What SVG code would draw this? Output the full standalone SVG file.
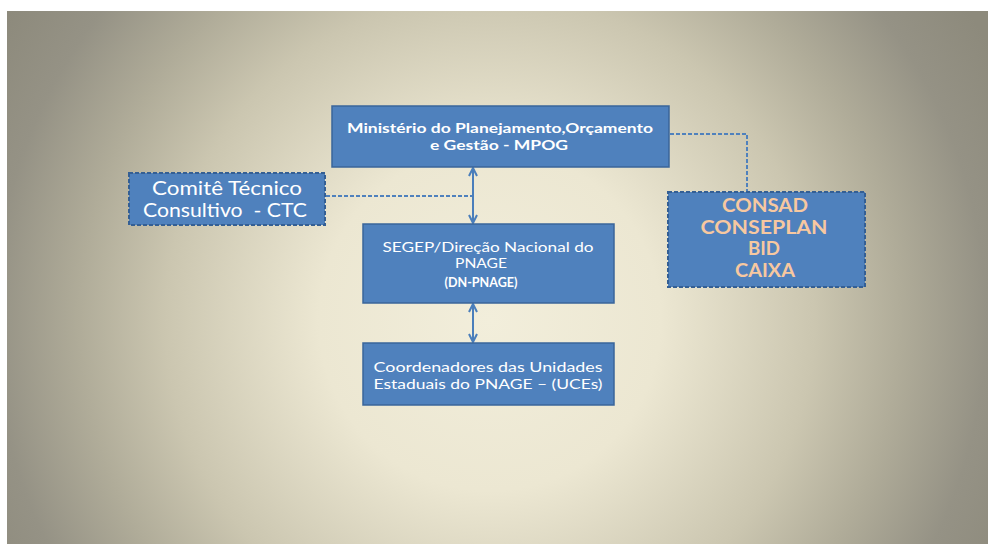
<svg xmlns="http://www.w3.org/2000/svg" width="988" height="544" viewBox="0 0 988 544">
<defs>
<radialGradient id="bg" gradientUnits="userSpaceOnUse" cx="490" cy="320" r="570">
<stop offset="0" stop-color="#f2eedb"/>
<stop offset="0.3" stop-color="#ece7d2"/>
<stop offset="0.57" stop-color="#cbc6b0"/>
<stop offset="0.72" stop-color="#b0ac99"/>
<stop offset="0.87" stop-color="#959285"/>
<stop offset="1" stop-color="#8d8a7c"/>
</radialGradient>
<marker id="ah" viewBox="0 0 10 10" refX="9" refY="5" markerWidth="5" markerHeight="5" orient="auto-start-reverse" markerUnits="strokeWidth">
<path d="M1,1 L9,5 L1,9" fill="none" stroke="#4a7ebb" stroke-width="2"/>
</marker>
<style>
.box{fill:#4f81bd;stroke:#3a659a;stroke-width:1.5}
.dbox{fill:#4f81bd;stroke:#345f94;stroke-width:2;stroke-dasharray:4 2}
.t{font-family:Lato,"Open Sans","Liberation Sans",sans-serif;fill:#ffffff;text-anchor:middle}
.o{font-family:Lato,"Open Sans","Liberation Sans",sans-serif;fill:#f7c8a0;text-anchor:middle;font-weight:bold;font-size:18px}
.arr{stroke:#4a7ebb;stroke-width:2;fill:none;marker-start:url(#ah);marker-end:url(#ah)}
.dash{stroke:#4f81bd;stroke-width:2;fill:none;stroke-dasharray:4 2}
</style>
</defs>
<rect x="0" y="0" width="988" height="544" fill="#ffffff"/>
<rect x="7" y="11" width="981" height="533" fill="url(#bg)"/>
<g id="connectors">
<line class="arr" x1="473" y1="168" x2="473" y2="223"/>
<line class="arr" x1="473" y1="304" x2="473" y2="342"/>
<polyline class="dash" points="326,196 472,196"/>
<polyline class="dash" points="670,134 747,134 747,191"/>
</g>
<g id="mpog">
<rect class="box" x="332" y="106" width="337" height="61"/>
<text class="t" x="500" y="133" font-size="14" font-weight="bold" textLength="306" lengthAdjust="spacingAndGlyphs">Ministério do Planejamento,Orçamento</text>
<text class="t" x="499" y="150" font-size="14" font-weight="bold" textLength="138" lengthAdjust="spacingAndGlyphs">e Gestão - MPOG</text>
</g>
<g id="ctc">
<rect class="dbox" x="129" y="173" width="196" height="52"/>
<text class="t" x="227" y="195" font-size="19" textLength="150" lengthAdjust="spacingAndGlyphs">Comitê Técnico</text>
<text class="t" x="225" y="217" font-size="19" xml:space="preserve" textLength="164" lengthAdjust="spacingAndGlyphs">Consultivo  - CTC</text>
</g>
<g id="consad">
<rect class="dbox" x="668" y="192" width="197" height="95"/>
<text class="o" x="765" y="212" textLength="86" lengthAdjust="spacingAndGlyphs">CONSAD</text>
<text class="o" x="764" y="234" textLength="127" lengthAdjust="spacingAndGlyphs">CONSEPLAN</text>
<text class="o" x="764" y="255" textLength="32" lengthAdjust="spacingAndGlyphs">BID</text>
<text class="o" x="765" y="277" textLength="60" lengthAdjust="spacingAndGlyphs">CAIXA</text>
</g>
<g id="segep">
<rect class="box" x="363" y="224" width="251" height="79"/>
<text class="t" x="488" y="252" font-size="13" textLength="211" lengthAdjust="spacingAndGlyphs">SEGEP/Direção Nacional do</text>
<text class="t" x="481" y="268" font-size="13" textLength="52" lengthAdjust="spacingAndGlyphs">PNAGE</text>
<text class="t" x="481" y="287" font-size="13" font-weight="bold" textLength="73" lengthAdjust="spacingAndGlyphs">(DN-PNAGE)</text>
</g>
<g id="uces">
<rect class="box" x="363" y="343" width="251" height="62"/>
<text class="t" x="488" y="372" font-size="14" textLength="229" lengthAdjust="spacingAndGlyphs">Coordenadores das Unidades</text>
<text class="t" x="488" y="389" font-size="14" textLength="229" lengthAdjust="spacingAndGlyphs">Estaduais do PNAGE – (UCEs)</text>
</g>
</svg>
